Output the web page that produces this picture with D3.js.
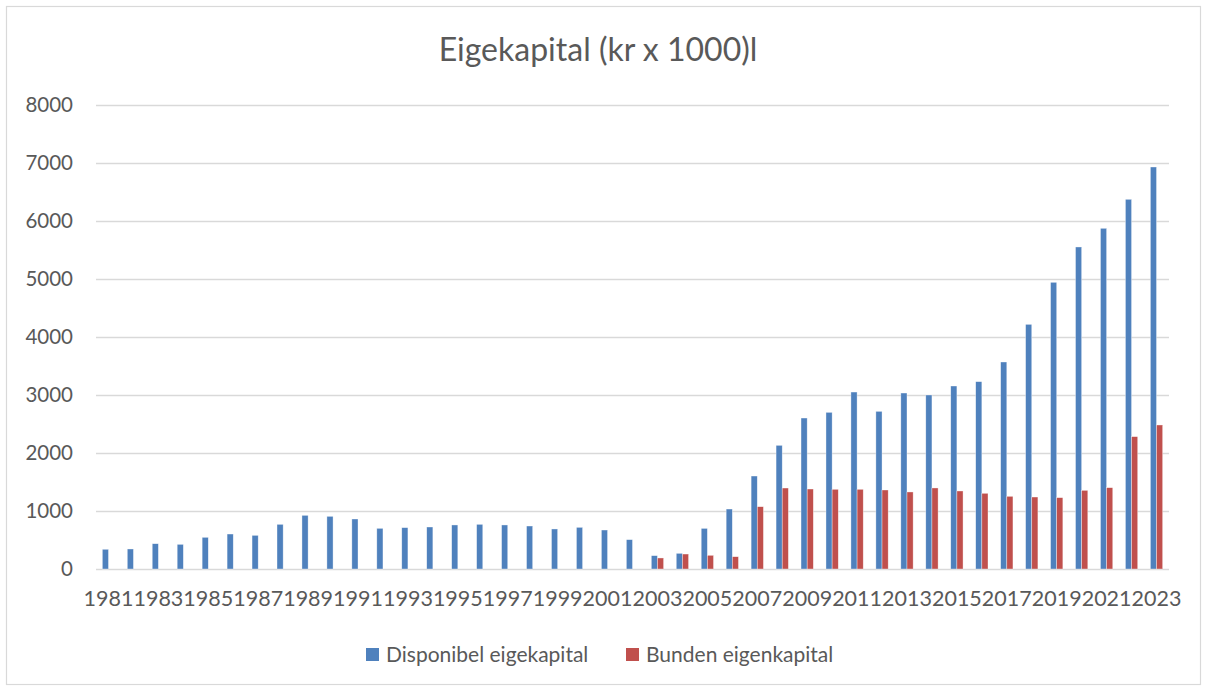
<!DOCTYPE html>
<html>
<head>
<meta charset="utf-8">
<script src="https://cdn.jsdelivr.net/npm/d3@7"></script>
<style>
    body { margin: 0; background: #fff; }
    text { font-family: Lato, "Open Sans", sans-serif; fill: #595959; }
</style>
</head>
<body>
<svg width="1208" height="688"></svg>
<script>
// chart data
var years = d3.range(1981, 2024).map(String);
var seriesNames = ["Disponibel eigekapital", "Bunden eigenkapital"];
var seriesColors = ["#4F81BD", "#C0504D"];
var disponibel = [340, 345, 436, 425, 546, 603, 580, 770, 925, 908, 862, 701, 713, 724, 759, 770, 759, 741, 690, 718, 672, 506,
                  230, 270, 700, 1034, 1603, 2132, 2603, 2701, 3051, 2718, 3034, 3000, 3155, 3230, 3569, 4218, 4943, 5552, 5874, 6374, 6931];
var bunden = [0, 0, 0, 0, 0, 0, 0, 0, 0, 0, 0, 0, 0, 0, 0, 0, 0, 0, 0, 0, 0, 0,
              190, 258, 236, 212, 1074, 1396, 1379, 1374, 1374, 1362, 1328, 1397, 1345, 1305, 1253, 1241, 1230, 1356, 1402, 2282, 2483];
var yTicks = [0, 1000, 2000, 3000, 4000, 5000, 6000, 7000, 8000];
var title = "Eigekapital (kr x 1000)l";

var svg = d3.select("svg");
var margin = {top: 105, left: 96, right: 39, bottom: 119};
var width = 1208 - margin.left - margin.right,
    height = 688 - margin.top - margin.bottom;

// outer border
svg.append("rect")
    .attr("x", 6.5).attr("y", 6.5)
    .attr("width", 1194).attr("height", 678)
    .attr("fill", "none")
    .attr("stroke", "#d9d9d9")
    .attr("stroke-width", 1.2);

svg.append("text")
    .attr("x", 598).attr("y", 61)
    .attr("text-anchor", "middle")
    .style("font-size", "32px")
    .text(title);

var g = svg.append("g")
    .attr("transform", "translate(" + margin.left + "," + margin.top + ")");

var x = d3.scaleBand().domain(years).range([0, width]).padding(0);
var x1 = d3.scaleBand().domain([0, 1]).range([0, x.bandwidth()]).paddingInner(0).paddingOuter(1.03);
var y = d3.scaleLinear().domain([0, 8000]).range([height, 0]);

// gridlines + y labels
g.append("g")
    .call(d3.axisLeft(y).tickValues(yTicks).tickSize(-width).tickPadding(23).tickFormat(d3.format("d")))
    .call(function (ax) {
        ax.select(".domain").remove();
        ax.selectAll(".tick line").attr("stroke", "#d9d9d9").attr("stroke-width", 1.3);
        ax.selectAll(".tick text").style("font-size", "20.5px").attr("fill", "#595959");
    });

// bars
var data = years.map(function (yr, i) { return {year: yr, values: [disponibel[i], bunden[i]]}; });
var groups = g.selectAll(".year")
    .data(data)
    .enter().append("g")
    .attr("class", "year")
    .attr("transform", function (d) { return "translate(" + x(d.year) + ",0)"; });

groups.selectAll("rect")
    .data(function (d) { return d.values.map(function (v, k) { return {k: k, v: v}; }).filter(function (e) { return e.v > 0; }); })
    .enter().append("rect")
    .attr("x", function (d) { return x1(d.k); })
    .attr("width", x1.bandwidth())
    .attr("y", function (d) { return y(d.v); })
    .attr("height", function (d) { return height - y(d.v); })
    .attr("fill", function (d) { return seriesColors[d.k]; })
    .attr("stroke", "#fff")
    .attr("stroke-opacity", 0.6)
    .attr("stroke-width", 0.6);

// x axis labels (every other year)
g.append("g")
    .attr("transform", "translate(0," + height + ")")
    .call(d3.axisBottom(x).tickValues(years.filter(function (d, i) { return i % 2 === 0; })).tickSize(0).tickPadding(22))
    .call(function (ax) {
        ax.select(".domain").remove();
        ax.selectAll(".tick text").style("font-size", "21.5px").attr("fill", "#595959");
    });

// legend
var legend = svg.append("g");
var legendX = [366, 626];
seriesNames.forEach(function (name, k) {
    legend.append("rect")
        .attr("x", legendX[k]).attr("y", 648)
        .attr("width", 13).attr("height", 13)
        .attr("fill", seriesColors[k]);
    legend.append("text")
        .attr("x", legendX[k] + 20).attr("y", 662)
        .style("font-size", "21px")
        .text(name);
});
</script>
</body>
</html>
